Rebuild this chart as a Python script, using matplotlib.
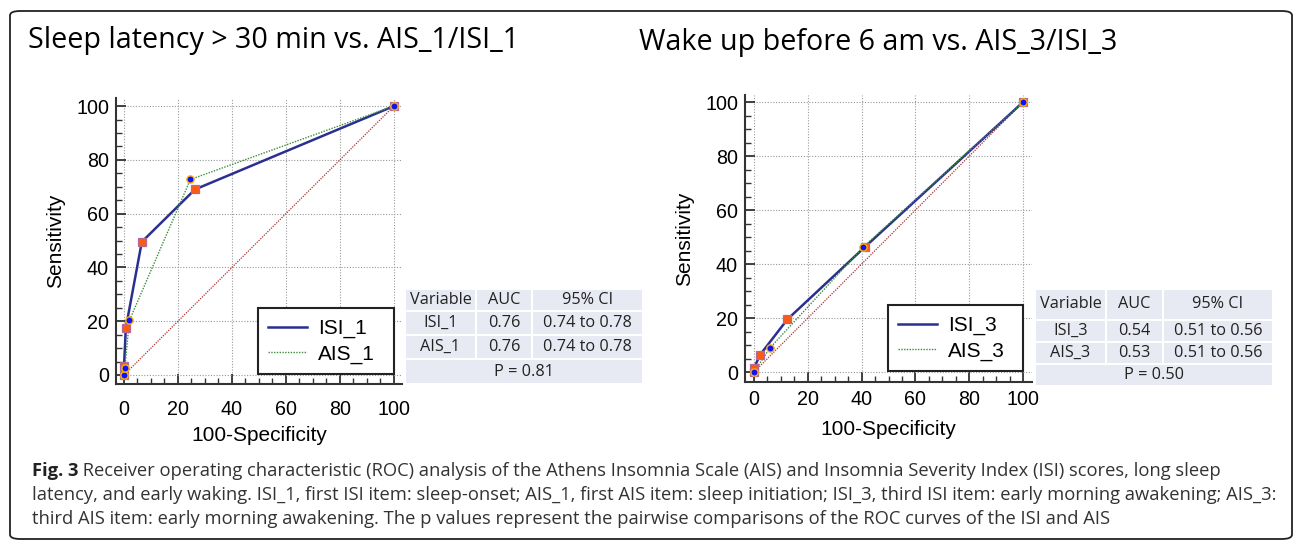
import matplotlib
matplotlib.use("Agg")
import matplotlib.pyplot as plt
from matplotlib.patches import Rectangle, FancyBboxPatch
from matplotlib.ticker import MultipleLocator

# ---------------- data ----------------
titles = ["Sleep latency > 30 min vs. AIS_1/ISI_1", "Wake up before 6 am vs. AIS_3/ISI_3"]

isi1_x = [0, 0, 0.7, 6.6, 26.3, 100]
isi1_y = [0, 3.2, 17.6, 49.5, 69.0, 100]
ais1_x = [0, 0.3, 2.0, 24.6, 100]
ais1_y = [0, 2.5, 20.3, 72.7, 100]

isi3_x = [0, 0, 2.2, 12.4, 41.3, 100]
isi3_y = [0, 1.4, 6.3, 19.5, 46.4, 100]
ais3_x = [0, 6.0, 40.5, 100]
ais3_y = [0, 9.0, 46.2, 100]

legend_labels = [["ISI_1", "AIS_1"], ["ISI_3", "AIS_3"]]

table_header = ["Variable", "AUC", "95% CI"]
table1_rows = [["ISI_1", "0.76", "0.74 to 0.78"], ["AIS_1", "0.76", "0.74 to 0.78"]]
table1_p = "P = 0.81"
table3_rows = [["ISI_3", "0.54", "0.51 to 0.56"], ["AIS_3", "0.53", "0.51 to 0.56"]]
table3_p = "P = 0.50"

x_label = "100-Specificity"
y_label = "Sensitivity"

caption_bold = "Fig. 3"
caption_lines = [
    " Receiver operating characteristic (ROC) analysis of the Athens Insomnia Scale (AIS) and Insomnia Severity Index (ISI) scores, long sleep",
    "latency, and early waking. ISI_1, first ISI item: sleep-onset; AIS_1, first AIS item: sleep initiation; ISI_3, third ISI item: early morning awakening; AIS_3:",
    "third AIS item: early morning awakening. The p values represent the pairwise comparisons of the ROC curves of the ISI and AIS",
]

# ---------------- figure ----------------
W, H = 1295, 542
fig = plt.figure(figsize=(W / 100, H / 100), dpi=100)

def fx(px):
    return px / W

def fy(py):
    return 1 - py / H

# outer rounded frame
frame = FancyBboxPatch((fx(10), fy(539)), fx(1292) - fx(10), fy(11) - fy(539),
                       boxstyle="round,pad=0,rounding_size=0.008",
                       transform=fig.transFigure, fill=False, edgecolor="#222222", lw=1.3)
fig.patches.append(frame)

TICK_FONT = "Liberation Sans"
TITLE_FONT = "Open Sans"

isi_color = "#2b2f8f"
ais_color = "#3c8c3c"
diag_color = "#b03030"


def make_axes(rect, xlim, ylim, isi, ais, labels, xpad, xlabelpad, ylabelpad):
    ax = fig.add_axes(rect)
    ax.set_xlim(*xlim)
    ax.set_ylim(*ylim)
    for s in ["top", "right"]:
        ax.spines[s].set_visible(False)
    for s in ["left", "bottom"]:
        ax.spines[s].set_color("#333333")
        ax.spines[s].set_linewidth(1.5)
    ax.xaxis.set_major_locator(MultipleLocator(20))
    ax.yaxis.set_major_locator(MultipleLocator(20))
    ax.xaxis.set_minor_locator(MultipleLocator(5))
    ax.yaxis.set_minor_locator(MultipleLocator(5))
    ax.tick_params(which="major", direction="in", length=7, width=1.3, color="#333333",
                   labelsize=14.2)
    ax.tick_params(axis="x", which="major", pad=xpad)
    ax.tick_params(axis="y", which="major", pad=5)
    ax.tick_params(which="minor", direction="in", length=4, width=1.0, color="#333333")
    for lab in ax.get_xticklabels() + ax.get_yticklabels():
        lab.set_fontfamily(TICK_FONT)
    ax.grid(True, which="major", linestyle=(0, (1, 1.5)), color="#9a9a9a", lw=0.8)
    ax.set_axisbelow(True)
    ax.plot([0, 100], [0, 100], linestyle=(0, (1, 1)), color=diag_color, lw=0.9, zorder=2)
    (ix, iy), (axx, ayy) = isi, ais
    l1, = ax.plot(ix, iy, color=isi_color, lw=1.8, zorder=3, label=labels[0])
    ax.plot(ix, iy, linestyle="none", marker="s", markersize=6.2, markerfacecolor="#ff5a10",
            markeredgecolor="#b06a9a", markeredgewidth=0.9, zorder=4)
    l2, = ax.plot(axx, ayy, color=ais_color, lw=1.0, linestyle=(0, (1, 1)), zorder=3, label=labels[1])
    ax.plot(axx, ayy, linestyle="none", marker="o", markersize=5.2, markerfacecolor="#0a14ff",
            markeredgecolor="#ffb000", markeredgewidth=1.0, zorder=5)
    ax.set_xlabel(x_label, fontfamily=TICK_FONT, fontsize=15, labelpad=xlabelpad)
    ax.set_ylabel(y_label, fontfamily=TICK_FONT, fontsize=15, labelpad=ylabelpad)
    return ax, (l1, l2)


ax1, h1 = make_axes([fx(116), fy(384), fx(402) - fx(116), fy(98) - fy(384)],
                    (-2.96, 103), (-3.35, 103), (isi1_x, isi1_y), (ais1_x, ais1_y),
                    legend_labels[0], 11.5, 5, 8)
ax2, h2 = make_axes([fx(745), fy(382), fx(1032) - fx(745), fy(95) - fy(382)],
                    (-3.35, 103.3), (-3.7, 102.6), (isi3_x, isi3_y), (ais3_x, ais3_y),
                    legend_labels[1], 5.5, 8, 8)

for ax, hs, (x0, x1, y1) in [(ax1, h1, (258, 394, 374)), (ax2, h2, (888, 1023, 371))]:
    bb = ax.get_position()
    ax_x0 = (fx(x0) - bb.x0) / bb.width
    ax_w = (fx(x1) - fx(x0)) / bb.width
    ax_y = (fy(y1) - bb.y0) / bb.height
    leg = ax.legend(handles=list(hs), loc="lower left", bbox_to_anchor=(ax_x0, ax_y, ax_w, 0.2),
                    mode="expand", borderaxespad=0, fancybox=False, framealpha=1,
                    edgecolor="#222222", prop={"family": TICK_FONT, "size": 15},
                    handlelength=1.85, handletextpad=0.55, borderpad=0.5, labelspacing=0.3)
    leg.get_frame().set_linewidth(1.5)
    leg.set_zorder(10)

# titles
fig.text(fx(28), fy(48), titles[0], fontfamily=TITLE_FONT, fontsize=20.6, va="baseline", ha="left")
fig.text(fx(639), fy(50), titles[1], fontfamily=TITLE_FONT, fontsize=20.6, va="baseline", ha="left")


# tables
def draw_table(x_edges, y_edges, header, rows, ptext):
    cell_color = "#e8eaf3"
    data = [header] + rows
    for r in range(len(data)):
        for c in range(3):
            x0, x1 = x_edges[c], x_edges[c + 1]
            y0, y1 = y_edges[r], y_edges[r + 1]
            fig.patches.append(Rectangle((fx(x0), fy(y1)), fx(x1) - fx(x0), fy(y0) - fy(y1),
                                         transform=fig.transFigure, facecolor=cell_color,
                                         edgecolor="white", lw=1.5))
            fig.text(fx((x0 + x1) / 2), fy((y0 + y1) / 2), data[r][c], ha="center", va="center",
                     fontfamily=TITLE_FONT, fontsize=11.7, color="#222222")
    y0, y1 = y_edges[-2], y_edges[-1]
    x0, x1 = x_edges[0], x_edges[-1]
    fig.patches.append(Rectangle((fx(x0), fy(y1)), fx(x1) - fx(x0), fy(y0) - fy(y1),
                                 transform=fig.transFigure, facecolor=cell_color,
                                 edgecolor="white", lw=1.5))
    fig.text(fx((x0 + x1) / 2), fy((y0 + y1) / 2), ptext, ha="center", va="center",
             fontfamily=TITLE_FONT, fontsize=11.7, color="#222222")


draw_table([405, 476, 532, 643], [289, 311, 335, 359, 384], table_header, table1_rows, table1_p)
draw_table([1035, 1106, 1163, 1273], [289, 320, 342, 364, 386], table_header, table3_rows, table3_p)

# caption
CAP_SIZE = 13.2
renderer = fig.canvas.get_renderer()
tb = fig.text(fx(32), fy(476), caption_bold, fontfamily=TITLE_FONT, fontweight="bold",
              fontsize=CAP_SIZE, color="#222222", va="baseline", ha="left")
ext = tb.get_window_extent(renderer=renderer)
fig.text(ext.x1 / W, fy(476), caption_lines[0], fontfamily=TITLE_FONT, fontsize=CAP_SIZE,
         color="#333333", va="baseline", ha="left")
fig.text(fx(32), fy(500), caption_lines[1], fontfamily=TITLE_FONT, fontsize=CAP_SIZE,
         color="#333333", va="baseline", ha="left")
fig.text(fx(32), fy(524), caption_lines[2], fontfamily=TITLE_FONT, fontsize=CAP_SIZE,
         color="#333333", va="baseline", ha="left")

fig.savefig("out.png", dpi=100)
